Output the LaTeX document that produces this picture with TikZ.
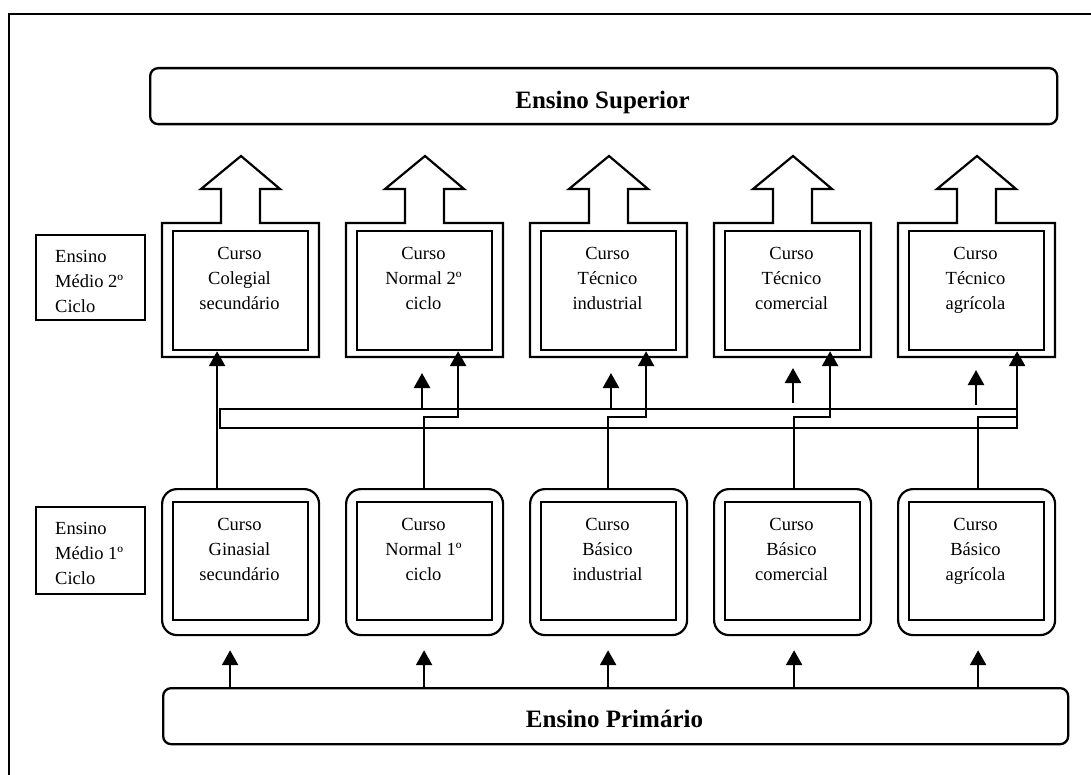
\documentclass[tikz,border=0pt]{standalone}
\usepackage{fontspec}
\setmainfont{Liberation Serif}
\usetikzlibrary{arrows.meta}
\begin{document}
\begin{tikzpicture}[x=1pt,y=-1pt,
  box/.style={draw, line width=2.2pt, inner sep=0pt},
  bandbox/.style={draw, line width=1.7pt, inner sep=0pt},
  bigbox/.style={draw, line width=2.3pt, rounded corners=8pt, inner sep=0pt},
  rbox/.style={draw, line width=2.2pt, rounded corners=15pt, inner sep=0pt},
  ctext/.style={inner sep=0pt, align=center, font=\fontsize{18.5}{25}\selectfont},
  ltext/.style={inner sep=0pt, align=left, font=\fontsize{18.5}{25}\selectfont},
  bigtext/.style={inner sep=0pt, font=\fontsize{25}{30}\selectfont\bfseries},
  arr/.style={line width=2.5pt, -{Triangle[width=16pt,length=15pt]}}]
\useasboundingbox (0,0) rectangle (1091,775);
% outer frame (cut by the page)
\draw[line width=2.2pt] (9,775) -- (9,14) -- (1091,14);

% top and bottom bars
\node[bigbox, minimum width=907, minimum height=56, anchor=north west] (sup) at (149,67) {};
\node[bigtext, anchor=base] (suptext) at (602.5,109) {Ensino Superior};
\node[bigbox, minimum width=905, minimum height=56, anchor=north west] (prim) at (162,687) {};
\node[bigtext, anchor=base] (primtext) at (614.5,727) {Ensino Primário};

% left labels
\node[box, minimum width=109, minimum height=85, anchor=north west] (m2) at (35,234) {};
\node[ltext, anchor=north west] (m2t) at (55,250.5) {Ensino\\Médio 2º\\Ciclo};
\node[box, minimum width=109, minimum height=87, anchor=north west] (m1) at (35,506) {};
\node[ltext, anchor=north west] (m1t) at (55,522.5) {Ensino\\Médio 1º\\Ciclo};

% horizontal band
\node[bandbox, minimum width=797, minimum height=19, anchor=north west] (band) at (219,408) {};

\foreach \i/\L/\ut/\lt in {
  1/162/{Curso\\Colegial\\secundário}/{Curso\\Ginasial\\secundário},
  2/346/{Curso\\Normal 2º\\ciclo}/{Curso\\Normal 1º\\ciclo},
  3/530/{Curso\\Técnico\\industrial}/{Curso\\Básico\\industrial},
  4/714/{Curso\\Técnico\\comercial}/{Curso\\Básico\\comercial},
  5/898/{Curso\\Técnico\\agrícola}/{Curso\\Básico\\agrícola}}{
  % upper frame with broad arrow
  \draw[line width=2.2pt, line join=miter] (\L,223) -- ({\L+59},223) -- ({\L+59},189) -- ({\L+39},189)
     -- ({\L+79},156) -- ({\L+118},189) -- ({\L+98},189) -- ({\L+98},223) -- ({\L+157},223)
     -- ({\L+157},357) -- (\L,357) -- cycle;
  \node[box, minimum width=135, minimum height=119, anchor=north west] (up\i) at ({\L+10},230) {};
  \node[ctext, anchor=north] (upt\i) at ({\L+77.5},247) {\ut};
  % lower rounded frame
  \node[rbox, minimum width=157, minimum height=146, anchor=north west] (loo\i) at ({\L-1},488) {};
  \node[box, minimum width=135, minimum height=118, anchor=north west] (lo\i) at ({\L+10},501) {};
  \node[ctext, anchor=north] (lot\i) at ({\L+77.5},518) {\lt};
}

% connectors: primary to lower groups
\foreach \i/\bx in {1/-10.5, 2/-0.5, 3/-0.5, 4/1.5, 5/1.5}{
  \path ([xshift=\bx pt]loo\i.south) coordinate (bt\i);
  \draw[arr, shorten >=14pt] (prim.north -| bt\i) -- (bt\i);
}

% long lines from lower groups to upper groups
\foreach \i/\lb/\lt in {1/-23.5/-23.5, 2/-0.5/33.5, 3/-0.5/37.5, 4/1.5/37.5, 5/1.5/40.5}{
  \draw[arr] ([xshift=\lb pt]loo\i.north) -- ++(0,-71) -| ([xshift=\lt pt]up\i.south);
}

% short arrows above the band
\foreach \x/\a/\b in {422/409/373, 611/409/373, 793/403/368, 976/405/370}{
  \draw[arr] (\x,\a) -- (\x,\b);
}
\end{tikzpicture}
\end{document}
